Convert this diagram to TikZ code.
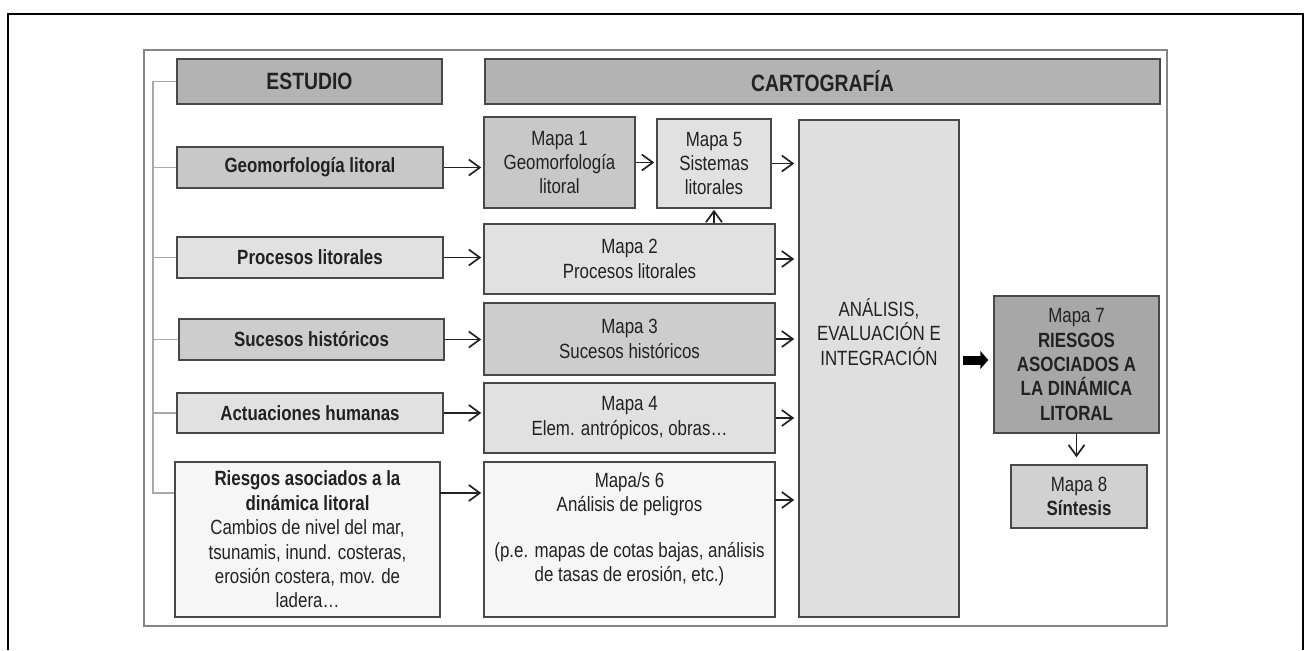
\documentclass[tikz,border=0pt]{standalone}
\usepackage{fontspec}
\setmainfont[FakeStretch=0.82]{Liberation Sans}
\usetikzlibrary{arrows.meta,calc}
\definecolor{boxc}{HTML}{484848}
\definecolor{framec}{HTML}{858585}
\definecolor{brkc}{HTML}{A8A8A8}
\definecolor{txtc}{HTML}{222222}
\definecolor{hdr}{HTML}{B3B3B3}
\definecolor{cA}{HTML}{C8C8C8}
\definecolor{cA2}{HTML}{CDCDCD}
\definecolor{cB}{HTML}{E1E1E1}
\definecolor{cW}{HTML}{F6F6F6}
\definecolor{cC}{HTML}{DFDFDF}
\definecolor{cD}{HTML}{A7A7A7}
\definecolor{cE}{HTML}{D1D1D1}
\newcommand{\bodyfs}{\fontsize{10.3}{12.2}\selectfont}
\newcommand{\hdrfs}{\fontsize{11.8}{14}\selectfont\bfseries}
\tikzset{
  bx/.style={draw=boxc, line width=0.75pt, inner sep=0pt, align=center, font=\bodyfs, text=txtc, anchor=center},
  bbx/.style={bx, font=\bodyfs\bfseries},
  sz/.style 2 args={minimum width=#1pt, minimum height=#2pt},
  txt/.style={inner sep=0pt, align=center, font=\bodyfs, text=txtc},
  arr/.style={draw=txtc, line width=0.85pt, -{Straight Barb[length=5.5pt,width=8pt]}, shorten >=1pt},
  brk/.style={draw=brkc, line width=0.6pt},
  fat/.style={draw=black, line width=4.5pt, -{Triangle[length=4pt,width=9pt]}}
}
\begin{document}
\begin{tikzpicture}[x=0.5pt,y=-0.5pt]
\useasboundingbox (0,0) rectangle (1306,650);
% outer frame
\draw[black, line width=1pt] (8,650) -- (8,14) -- (1303,14) -- (1303,650);
% inner frame
\draw[framec, line width=1pt, fill=white] (144,50) rectangle (1167,626);
% headers
\node[bx, fill=hdr, sz={132.5}{22.5}, font=\hdrfs] (est) at (309.5,81.5) {ESTUDIO};
\node[bx, fill=hdr, sz={337.5}{22.5}, font=\hdrfs] (car) at (822.5,81.5) {CARTOGRAFÍA};
% left column
\node[bbx, fill=cA, sz={133}{20.5}] (geo) at (310,167.5) {Geomorfología litoral};
\node[bbx, fill=cB, sz={133}{20.5}] (pro) at (310,257.5) {Procesos litorales};
\node[bbx, fill=cA2, sz={132.5}{20.5}] (suc) at (311.5,339.5) {Sucesos históricos};
\node[bbx, fill=cB, sz={133}{20}] (act) at (310,413) {Actuaciones humanas};
\node[bx, fill=cW, sz={132.5}{77.5}] (rie) at (307.5,539.5) {\textbf{Riesgos asociados a la}\\\textbf{dinámica litoral}\\Cambios de nivel del mar,\\tsunamis, inund. costeras,\\erosión costera, mov. de\\ladera…};
% middle column
\node[bx, fill=cA, sz={75.5}{45.5}] (m1) at (559.5,162.5) {Mapa 1\\Geomorfología\\litoral};
\node[bx, fill=cB, sz={57}{44.5}] (m5) at (714,163.5) {Mapa 5\\Sistemas\\litorales};
\node[bx, fill=cB, sz={145.5}{35}] (m2) at (629.5,259) {Mapa 2\\Procesos litorales};
\node[bx, fill=cA2, sz={145.5}{36}] (m3) at (629.5,339) {Mapa 3\\Sucesos históricos};
\node[bx, fill=cB, sz={145.5}{35}] (m4) at (629.5,418) {Mapa 4\\Elem. antrópicos, obras…};
\node[bx, fill=cW, sz={145.5}{77.5}] (m6) at (629.5,539.5) {};
\node[txt] (m6t) at (629.5,529) {Mapa/s 6\\Análisis de peligros\\[10.5pt](p.e. mapas de cotas bajas, análisis\\de tasas de erosión, etc.)};
% analysis
\node[bx, fill=cC, sz={80}{248.5}] (ana) at (879,368.5) {};
\node[txt] (anat) at (879,332) {ANÁLISIS,\\EVALUACIÓN E\\INTEGRACIÓN};
% right
\node[bx, fill=cD, sz={82.5}{68.5}] (m7) at (1076.5,364.5) {Mapa 7\\\textbf{RIESGOS}\\\textbf{ASOCIADOS A}\\\textbf{LA DINÁMICA}\\\textbf{LITORAL}};
\node[bx, fill=cE, sz={68}{31.5}] (m8) at (1079,496.5) {Mapa 8\\\textbf{Síntesis}};
% bracket
\coordinate (bt) at (153,81.5);
\coordinate (bb) at (153,493);
\draw[brk] (est.west) -- (est.west -| bt) -- (bb) -- (bb -| rie.west);
\draw[brk] (geo.west) -- (geo.west -| bt);
\draw[brk] (pro.west) -- (pro.west -| bt);
\draw[brk] (suc.west) -- (suc.west -| bt);
\draw[brk] (act.west) -- (act.west -| bt);
% arrows left -> middle
\coordinate (r6) at (440,493);
\draw[arr] (geo.east) -- (geo.east -| m1.west);
\draw[arr] (pro.east) -- (pro.east -| m2.west);
\draw[arr] (suc.east) -- (suc.east -| m3.west);
\draw[arr] (act.east) -- (act.east -| m4.west);
\draw[arr] (r6) -- (r6 -| m6.west);
% inner arrows
\draw[arr] (m1.east) -- (m1.east -| m5.west);
\draw[arr, shorten >=0.5pt] (m2.north -| m5.south) -- (m5.south);
% arrows to analysis
\coordinate (a6) at (775,500);
\draw[arr, shorten >=2pt] (m5.east) -- (m5.east -| ana.west);
\draw[arr, shorten >=2pt] (m2.east) -- (m2.east -| ana.west);
\draw[arr, shorten >=2pt] (m3.east) -- (m3.east -| ana.west);
\draw[arr, shorten >=2pt] (m4.east) -- (m4.east -| ana.west);
\draw[arr, shorten >=2pt] (a6) -- (a6 -| ana.west);
% fat arrow
\coordinate (fa) at (959,360);
\draw[fat, shorten <=2pt, shorten >=2.5pt] (fa) -- (fa -| m7.west);
% down arrow
\draw[arr, shorten >=3.5pt] (m7.south) -- (m7.south |- m8.north);
\end{tikzpicture}
\end{document}
